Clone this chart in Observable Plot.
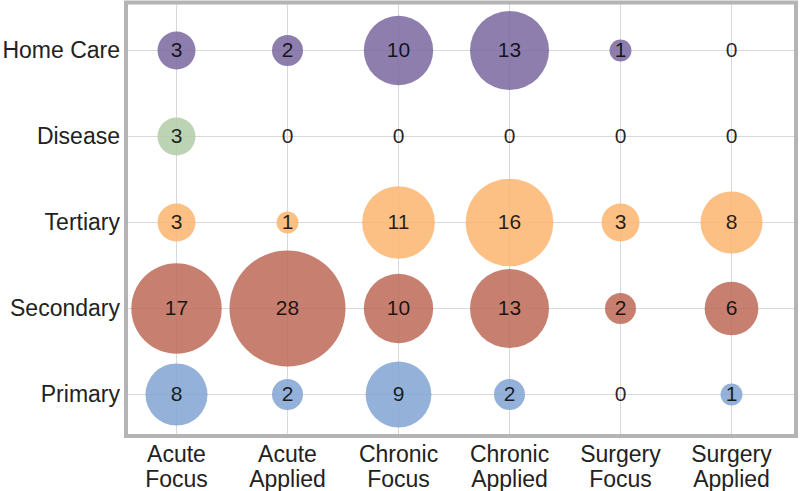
<!DOCTYPE html>
<html>
<head>
<meta charset="utf-8">
<script src="https://cdn.jsdelivr.net/npm/d3@7"></script>
<script src="https://cdn.jsdelivr.net/npm/@observablehq/plot@0.6"></script>
<style>
  html, body { margin: 0; padding: 0; background: #fff; }
</style>
</head>
<body>
<div id="chart"></div>
<script>
const columns = ["Acute Focus", "Acute Applied", "Chronic Focus", "Chronic Applied", "Surgery Focus", "Surgery Applied"];
const rows = ["Home Care", "Disease", "Tertiary", "Secondary", "Primary"];
const homeCare = [3, 2, 10, 13, 1, 0];
const disease = [3, 0, 0, 0, 0, 0];
const tertiary = [3, 1, 11, 16, 3, 8];
const secondary = [17, 28, 10, 13, 2, 6];
const primary = [8, 2, 9, 2, 0, 1];
const rowColors = ["#7a67a0", "#b0cda7", "#fcb46f", "#bd6857", "#81a5d2"];

const seriesByRow = [homeCare, disease, tertiary, secondary, primary];
const data = [];
rows.forEach((r, i) => {
  columns.forEach((c, j) => {
    data.push({row: r, col: c, value: seriesByRow[i][j]});
  });
});

const font = "'Liberation Sans', Arial, Helvetica, sans-serif";

const chart = Plot.plot({
  width: 800,
  height: 491,
  marginLeft: 125.5,
  marginRight: 4.5,
  marginTop: 2,
  marginBottom: 55.5,
  style: {fontFamily: font, color: "#222", background: "#fff"},
  x: {type: "point", domain: columns, padding: 0, insetLeft: 50, insetRight: 65},
  y: {type: "point", domain: rows, padding: 0, insetTop: 48, insetBottom: 41.5},
  r: {domain: [0, 28], range: [0, 58]},
  color: {domain: rows, range: rowColors},
  marks: [
    Plot.gridX({stroke: "#d9d9d9", strokeOpacity: 1, strokeWidth: 1}),
    Plot.gridY({stroke: "#d9d9d9", strokeOpacity: 1, strokeWidth: 1}),
    Plot.dot(data.filter(d => d.value > 0), {x: "col", y: "row", r: "value", fill: "row", fillOpacity: 0.85, stroke: "none"}),
    Plot.text(data, {x: "col", y: "row", text: d => String(d.value), fill: "#000", fillOpacity: 0.85, fontSize: 21}),
    Plot.frame({stroke: "#b4b4b4", strokeWidth: 4}),
    Plot.axisX({
      tickSize: 0, tickPadding: 8, fontSize: 23, fill: "#222", label: null,
      tickFormat: d => d.replace(" ", "\n"), lineHeight: 1.1
    }),
    Plot.axisY({tickSize: 0, tickPadding: 6, fontSize: 23, fill: "#222", label: null})
  ]
});
document.getElementById("chart").appendChild(chart);
</script>
</body>
</html>
